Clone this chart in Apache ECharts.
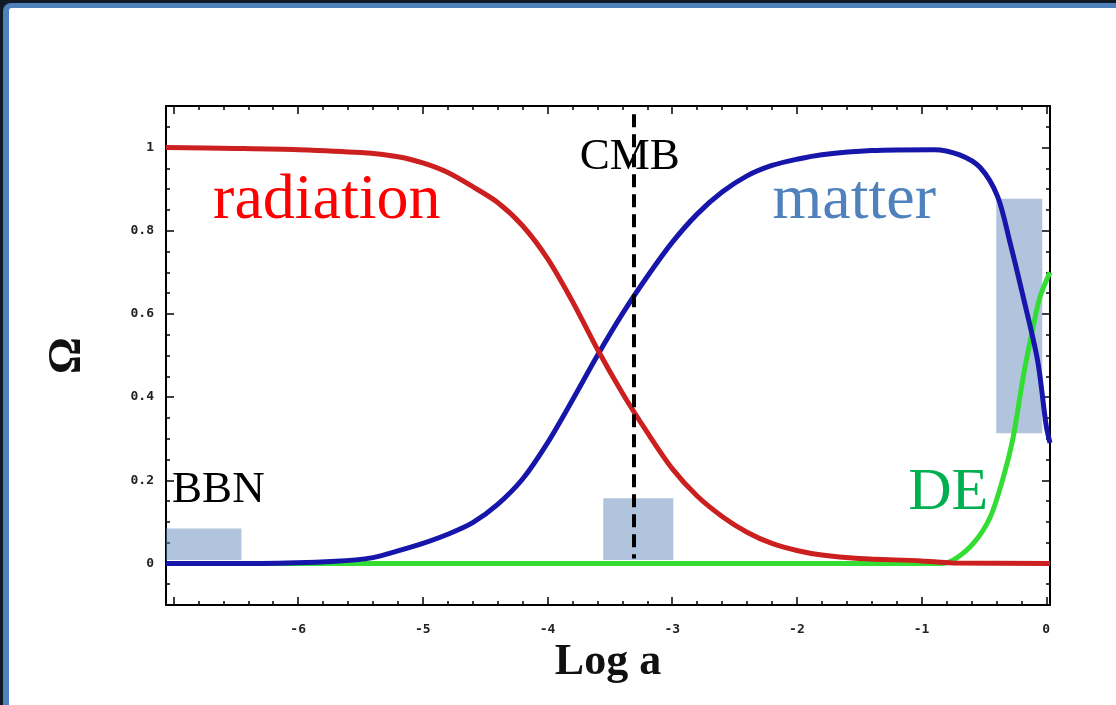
<!DOCTYPE html>
<html>
<head>
  <meta charset="UTF-8">
  <title>Omega vs log a</title>
  <style>
    body { margin: 0; background: #111a24; }
    #frame {
      position: absolute; left: 3px; top: 3px; width: 1113px; height: 702px;
      background: #fff; box-sizing: border-box;
      border-top: 5px solid #4f81bd; border-left: 6px solid #4f81bd;
      border-top-left-radius: 8px;
    }
    #myChart { position: absolute; left: 0; top: 0; width: 1116px; height: 705px; }
  </style>
</head>
<body>
  <div id="frame"></div>
  <div id="myChart"></div>
  <script src="https://cdn.jsdelivr.net/npm/echarts@6/dist/echarts.min.js"></script>
  <script>
    // values: [log a, Omega]
    const radiation = [
      [-7.06, 1.0], [-6.5, 0.998], [-6.0, 0.995], [-5.5, 0.988], [-5.2, 0.978],
      [-5.0, 0.963], [-4.8, 0.94], [-4.6, 0.906], [-4.4, 0.868], [-4.2, 0.812],
      [-4.0, 0.733], [-3.8, 0.63], [-3.6, 0.515], [-3.4, 0.41], [-3.2, 0.315],
      [-3.0, 0.228], [-2.8, 0.162], [-2.6, 0.113], [-2.4, 0.075], [-2.2, 0.048],
      [-2.0, 0.031], [-1.8, 0.02], [-1.5, 0.012], [-1.0, 0.006], [-0.75, 0.001], [0.03, 0.0]
    ];
    const matter = [
      [-7.06, 0], [-6.3, 0.0], [-5.7, 0.005], [-5.4, 0.014], [-5.2, 0.03],
      [-5.0, 0.048], [-4.8, 0.07], [-4.6, 0.098], [-4.4, 0.142], [-4.2, 0.203],
      [-4.0, 0.29], [-3.8, 0.393], [-3.6, 0.5], [-3.4, 0.6], [-3.2, 0.69],
      [-3.0, 0.772], [-2.8, 0.84], [-2.6, 0.893], [-2.4, 0.932], [-2.2, 0.957],
      [-2.0, 0.972], [-1.8, 0.983], [-1.4, 0.993], [-0.9, 0.995], [-0.7, 0.983],
      [-0.53, 0.952], [-0.39, 0.882], [-0.29, 0.771], [-0.185, 0.641], [-0.07, 0.489],
      [0.0, 0.33], [0.03, 0.29]
    ];
    const darkEnergy = [
      [-7.06, 0], [-0.85, 0], [-0.75, 0.007], [-0.585, 0.048], [-0.45, 0.111],
      [-0.345, 0.207], [-0.265, 0.304], [-0.185, 0.448], [-0.105, 0.569],
      [-0.05, 0.641], [0.03, 0.70]
    ];

    const xTicks = [-7, -6, -5, -4, -3, -2, -1, 0];
    const xLabels = [-6, -5, -4, -3, -2, -1, 0];
    const yLabels = [0, 0.2, 0.4, 0.6, 0.8, 1];

    // shaded epochs: [x0, y0, x1, y1]
    const boxes = [
      [-7.06, 0.008, -6.455, 0.084],
      [-3.553, 0.008, -2.991, 0.157],
      [-0.401, 0.313, -0.032, 0.877]
    ];
    const cmbAt = -3.31;
    const notes = [
      { name: 'radiation', value: [-5.77, 0.872], color: '#ff0000', size: 64 },
      { name: 'matter', value: [-1.54, 0.872], color: '#4f81bd', size: 64 },
      { name: 'CMB', value: [-3.34, 0.978], color: '#000', size: 45 },
      { name: 'BBN', value: [-6.64, 0.176], color: '#000', size: 45 },
      { name: 'DE', value: [-0.786, 0.169], color: '#00b050', size: 60 }
    ];

    const xMinor = [];
    for (let i = 0; i <= 35; i++) xMinor.push(-7 + i * 0.2);
    const yMinor = [];
    for (let i = 0; i <= 24; i++) yMinor.push(-0.1 + i * 0.05);

    const tickFont = {
      fontFamily: 'DejaVu Sans Mono', fontWeight: 'bold', fontSize: 13, color: '#222'
    };
    const frameLine = { show: true, onZero: false, lineStyle: { color: '#000', width: 2 } };

    function xAx(pos, ticks, len, extra) {
      return Object.assign({
        type: 'value', position: pos, min: -7.06, max: 0.03,
        axisLine: frameLine,
        axisTick: { show: true, inside: true, length: len, customValues: ticks,
          lineStyle: { color: '#000', width: 1.5 } },
        axisLabel: { show: false },
        splitLine: { show: false }
      }, extra || {});
    }
    function yAx(pos, ticks, len, extra) {
      return Object.assign({
        type: 'value', position: pos, min: -0.1, max: 1.1,
        axisLine: frameLine,
        axisTick: { show: true, inside: true, length: len, customValues: ticks,
          lineStyle: { color: '#000', width: 1.5 } },
        axisLabel: { show: false },
        splitLine: { show: false }
      }, extra || {});
    }

    const myChart = echarts.init(document.getElementById('myChart'));
    const option = {
      animation: false,
      grid: { left: 166, top: 106, width: 884, height: 499 },
      xAxis: [
        xAx('bottom', xTicks, 8, {
          name: 'Log a', nameLocation: 'middle', nameGap: 24,
          nameTextStyle: { fontFamily: 'Liberation Serif', fontWeight: 'bold', fontSize: 44, color: '#111' },
          axisLabel: Object.assign({ show: true, margin: 18, customValues: xLabels }, tickFont)
        }),
        xAx('bottom', xMinor, 4),
        xAx('top', xTicks, 8),
        xAx('top', xMinor, 4)
      ],
      yAxis: [
        yAx('left', yLabels, 8, {
          name: 'Ω', nameLocation: 'middle', nameGap: 75, nameRotate: 90,
          nameTextStyle: { fontFamily: 'Liberation Serif', fontWeight: 'bold', fontSize: 46, color: '#111' },
          axisLabel: Object.assign({ show: true, margin: 12, customValues: yLabels,
            formatter: v => String(Math.round(v * 10) / 10) }, tickFont)
        }),
        yAx('left', yMinor, 4),
        yAx('right', yLabels, 8),
        yAx('right', yMinor, 4)
      ],
      series: [
        {
          name: 'DE', type: 'line', data: darkEnergy, z: 2, symbol: 'none',
          smooth: 0.3,
          lineStyle: { color: '#33dd33', width: 5 }
        },
        {
          name: 'matter', type: 'line', data: matter, z: 3, symbol: 'none',
          smooth: 0.3,
          lineStyle: { color: '#1616aa', width: 5 }
        },
        {
          name: 'radiation', type: 'line', data: radiation, z: 4, symbol: 'none',
          smooth: 0.3,
          lineStyle: { color: '#cc2020', width: 5 }
        },
        {
          name: 'epochs', type: 'line', data: [], z: 5, symbol: 'none',
          markArea: {
            silent: true,
            itemStyle: { color: 'rgba(97,137,189,0.5)' },
            data: boxes.map(b => [{ coord: [b[0], b[1]] }, { coord: [b[2], b[3]] }])
          }
        },
        {
          name: 'CMB line', type: 'line', data: [], z: 6, symbol: 'none',
          markLine: {
            silent: true, symbol: 'none', label: { show: false },
            lineStyle: { color: '#000', width: 4, type: [13, 7] },
            data: [[{ coord: [cmbAt, 1.08] }, { coord: [cmbAt, 0.012] }]]
          }
        },
        {
          name: 'labels', type: 'scatter', z: 7, symbolSize: 1,
          itemStyle: { color: 'rgba(0,0,0,0)', opacity: 1 },
          data: notes.map(n => ({
            name: n.name, value: n.value,
            label: { show: true, position: 'inside', formatter: '{b}',
              fontFamily: 'Liberation Serif', fontSize: n.size, color: n.color, opacity: 1 }
          }))
        }
      ]
    };
    myChart.setOption(option);
  </script>
</body>
</html>
